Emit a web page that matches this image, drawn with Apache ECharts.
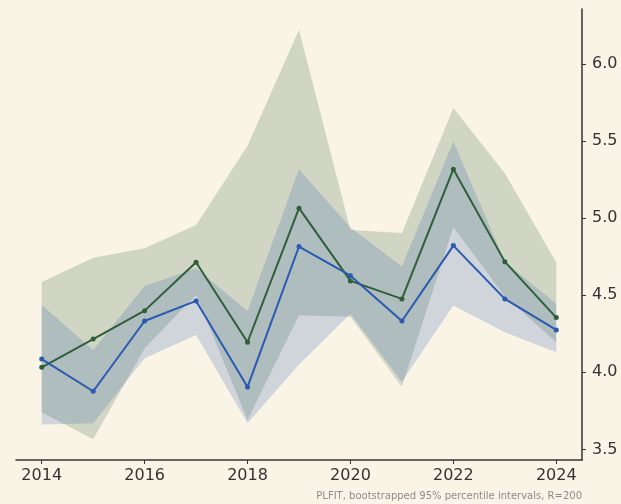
<!DOCTYPE html>
<html>
<head>
<meta charset="utf-8">
<script src="https://cdn.jsdelivr.net/npm/echarts@6/dist/echarts.min.js"></script>
<style>
  html, body { margin: 0; padding: 0; background: #faf4e7; }
  #chart { width: 621px; height: 504px; }
</style>
</head>
<body>
<div id="chart"></div>
<script>
const years = ['2014', '2015', '2016', '2017', '2018', '2019', '2020', '2021', '2022', '2023', '2024']
const yTicks = [3.5, 4.0, 4.5, 5.0, 5.5, 6.0]

// green series + its 95% interval
const greenMean = [4.032, 4.216, 4.400, 4.714, 4.195, 5.065, 4.593, 4.476, 5.318, 4.718, 4.355]
const greenLow = [3.740, 3.565, 4.156, 4.502, 3.690, 4.370, 4.360, 3.906, 4.942, 4.491, 4.195]
const greenHigh = [4.586, 4.743, 4.805, 4.956, 5.469, 6.223, 4.923, 4.903, 5.714, 5.292, 4.712]

// blue series + its 95% interval
const blueMean = [4.086, 3.877, 4.333, 4.463, 3.905, 4.816, 4.627, 4.333, 4.822, 4.476, 4.275]
const blueLow = [3.662, 3.669, 4.091, 4.242, 3.669, 4.050, 4.380, 3.939, 4.433, 4.260, 4.130]
const blueHigh = [4.437, 4.145, 4.560, 4.675, 4.398, 5.318, 4.940, 4.686, 5.497, 4.718, 4.444]

const caption = 'PLFIT, bootstrapped 95% percentile intervals, R=200'

const GREEN = '#2f5e3a'
const BLUE = '#2a5ab0'
const INK = '#333333'

function band (name, low, high, color) {
  return [
    {
      name: name + '-low',
      type: 'line',
      stack: name,
      data: low,
      symbol: 'none',
      lineStyle: { opacity: 0 },
      silent: true
    },
    {
      name: name + '-band',
      type: 'line',
      stack: name,
      data: high.map((v, i) => v - low[i]),
      symbol: 'none',
      lineStyle: { opacity: 0 },
      areaStyle: { color: color, opacity: 0.2 },
      silent: true
    }
  ]
}

function meanLine (name, data, color) {
  return {
    name: name,
    type: 'line',
    data: data,
    symbol: 'circle',
    symbolSize: 5,
    itemStyle: { color: color },
    lineStyle: { color: color, width: 2 }
  }
}

const chart = echarts.init(document.getElementById('chart'), null, { renderer: 'canvas' })

const option = {
  animation: false,
  backgroundColor: '#faf4e7',
  textStyle: { fontFamily: 'DejaVu Sans' },
  title: {
    text: caption,
    right: 39,
    bottom: 3,
    padding: 0,
    textStyle: { fontSize: 10, fontWeight: 'normal', color: '#8c8c8c', fontFamily: 'DejaVu Sans' }
  },
  grid: {
    left: 16,
    right: 39,
    top: 9,
    bottom: 44
  },
  xAxis: {
    type: 'category',
    data: years,
    boundaryGap: true,
    axisLine: { show: true, onZero: false, lineStyle: { color: INK, width: 1.5 } },
    axisTick: { show: true, alignWithLabel: true, interval: 1, length: 4, lineStyle: { color: INK, width: 1 } },
    axisLabel: { interval: 1, fontSize: 16, color: INK, margin: 8 },
    splitLine: { show: false }
  },
  yAxis: {
    type: 'value',
    position: 'right',
    min: 3.431,
    max: 6.357,
    axisLine: { show: true, lineStyle: { color: INK, width: 1.5 } },
    axisTick: { show: true, length: 4, customValues: yTicks, lineStyle: { color: INK, width: 1 } },
    axisLabel: {
      fontSize: 16,
      color: INK,
      margin: 10,
      customValues: yTicks,
      formatter: (v) => v.toFixed(1)
    },
    splitLine: { show: false }
  },
  series: [
    ...band('green', greenLow, greenHigh, GREEN),
    ...band('blue', blueLow, blueHigh, BLUE),
    meanLine('green', greenMean, GREEN),
    meanLine('blue', blueMean, BLUE)
  ]
}

chart.setOption(option)
</script>
</body>
</html>
